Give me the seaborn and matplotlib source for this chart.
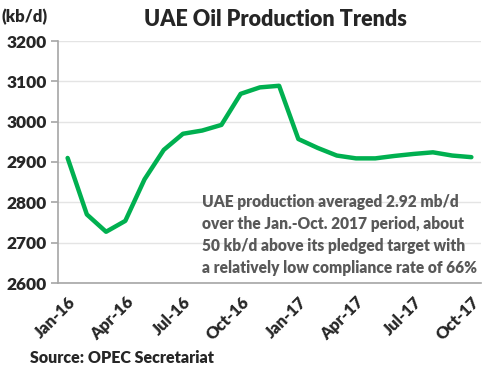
import matplotlib
matplotlib.use("Agg")
import matplotlib.pyplot as plt
import seaborn as sns
import pandas as pd

months = ["Jan-16", "Feb-16", "Mar-16", "Apr-16", "May-16", "Jun-16", "Jul-16", "Aug-16",
          "Sep-16", "Oct-16", "Nov-16", "Dec-16", "Jan-17", "Feb-17", "Mar-17", "Apr-17",
          "May-17", "Jun-17", "Jul-17", "Aug-17", "Sep-17", "Oct-17"]
production = [2910, 2770, 2727, 2754, 2857, 2930, 2970, 2978, 2992, 3069, 3085, 3089,
              2957, 2935, 2916, 2909, 2909, 2915, 2920, 2924, 2916, 2912]

df = pd.DataFrame({"month": months, "production": production})
df["idx"] = range(len(df))

sns.set_style("white")
plt.rcParams["font.family"] = ["Lato", "DejaVu Sans"]

fig = plt.figure(figsize=(5, 3.73), dpi=100)
ax = fig.add_axes([58 / 500, 1 - 283 / 373, (481 - 58) / 500, (283 - 41) / 373])

sns.lineplot(data=df, x="idx", y="production", color="#00B050", linewidth=3.2, ax=ax)

ax.set_xlim(-0.5, len(df) - 0.5)
ax.set_ylim(2600, 3200)
ax.set_yticks(range(2600, 3201, 100))
ax.set_yticklabels([str(v) for v in range(2600, 3201, 100)], fontsize=12.5, fontweight="heavy")
ax.yaxis.grid(True, color="#e4e4e4", linewidth=1)
ax.set_axisbelow(True)

ax.set_xticks(df["idx"][::3])
ax.set_xticklabels(df["month"][::3], rotation=45, ha="right", rotation_mode="anchor",
                   fontsize=12, fontweight="heavy")
ax.set_xticks([i - 0.5 for i in range(0, len(df), 3)], minor=True)
ax.tick_params(axis="x", which="major", length=0, pad=8)
ax.tick_params(axis="x", which="minor", length=5, color="#a6a6a6", width=1.2)
ax.tick_params(axis="y", length=5, color="#a6a6a6", width=1.2, pad=3, left=True)
ax.set_xlabel("")
ax.set_ylabel("")

for s in ["top", "right"]:
    ax.spines[s].set_visible(False)
for s in ["left", "bottom"]:
    ax.spines[s].set_color("#a6a6a6")
    ax.spines[s].set_linewidth(1.2)

fig.text(275 / 500, 1 - 20 / 373, "UAE Oil Production Trends", ha="center", va="center",
         fontsize=15.5, fontweight="heavy")
fig.text(2 / 500, 1 - 17 / 373, "(kb/d)", ha="left", va="center", fontsize=12, fontweight="heavy")
fig.text(30 / 500, 1 - 358 / 373, "Source: OPEC Secretariat", ha="left", va="center",
         fontsize=11.5, fontweight="heavy")

note = ("UAE production averaged 2.92 mb/d\n"
        "over the Jan.-Oct. 2017 period, about\n"
        "50 kb/d above its pledged target with\n"
        "a relatively low compliance rate of 66%")
fig.text(202 / 500, 1 - 235 / 373, note, ha="left", va="center", fontsize=11.2,
         fontweight="heavy", color="#595959", linespacing=1.45)

fig.savefig("out.png", dpi=100)
